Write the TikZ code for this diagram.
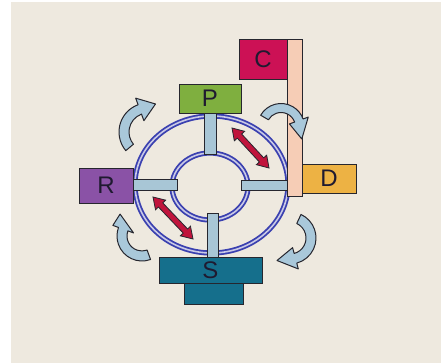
\documentclass[tikz,border=0pt]{standalone}
\usepackage{fontspec}
\setmainfont{Liberation Sans}
\usetikzlibrary{calc}
\definecolor{bg}{HTML}{EEE9DF}
\definecolor{outl}{HTML}{26262E}
\definecolor{txt}{HTML}{1F1A30}
\definecolor{cc}{HTML}{CC1155}
\definecolor{pc}{HTML}{7FAF3F}
\definecolor{dc}{HTML}{EDB244}
\definecolor{rc}{HTML}{8A52A6}
\definecolor{sc}{HTML}{156F8C}
\definecolor{pinkc}{HTML}{F6CDB6}
\definecolor{spokec}{HTML}{A8C6D6}
\definecolor{curc}{HTML}{A9C8DA}
\definecolor{redc}{HTML}{C0143C}
\definecolor{ringblue}{HTML}{3A40B0}
\definecolor{ringgap}{HTML}{C9C9E6}
\tikzset{
 box/.style={draw=outl, line width=0.9pt, inner sep=0pt, text=txt, font=\fontsize{24}{24}\selectfont},
 ring/.style={draw=ringblue, line width=1.8pt, double=ringgap, double distance=1.6pt},
 spoke/.style={draw=outl, fill=spokec, line width=0.7pt},
 redarr/.style={fill=redc, draw=outl, line width=0.8pt, line join=miter},
 curarr/.style={fill=curc, draw=outl, line width=1pt, line join=round},
}
\newcommand\curvarrow[9]{%
\begin{scope}[shift={(#1,#2)}]
\filldraw[curarr] (#4:{#3+#6/2}) arc[start angle=#4, end angle=#5, radius={#3+#6/2}] -- (#5:{#3+#7}) -- (#8:#9) -- (#5:{#3-#7}) -- (#5:{#3-#6/2}) arc[start angle=#5, end angle=#4, radius={#3-#6/2}] -- cycle;
\end{scope}}
\newcommand\dblarr[2]{%
\filldraw[redarr] (#1) -- ($(#1)!11pt!(#2)!7pt!90:(#2)$) -- ($(#1)!11pt!(#2)!3pt!90:(#2)$) -- ($(#2)!11pt!(#1)!3pt!-90:(#1)$) -- ($(#2)!11pt!(#1)!7pt!-90:(#1)$) -- (#2) -- ($(#2)!11pt!(#1)!7pt!90:(#1)$) -- ($(#2)!11pt!(#1)!3pt!90:(#1)$) -- ($(#1)!11pt!(#2)!3pt!-90:(#2)$) -- ($(#1)!11pt!(#2)!7pt!-90:(#2)$) -- cycle;}
\begin{document}
\begin{tikzpicture}[x=1pt,y=-1pt]
\useasboundingbox (0,0) rectangle (441,363);
\fill[white] (0,0) rectangle (441,363);
\fill[bg] (11,2) rectangle (441,363);
% rings
\draw[ring] (211.5,184.5) ellipse [x radius=76.5, y radius=68.5];
\draw[ring] (210,186.5) ellipse [x radius=38, y radius=33.5];
% spokes
\filldraw[spoke] (204,113) rectangle (216,154);
\filldraw[spoke] (207,213) rectangle (218,257);
\filldraw[spoke] (133,179) rectangle (177,190);
\filldraw[spoke] (241,180) rectangle (287,190);
% boxes
\node[box, fill=cc, minimum width=48, minimum height=40] (C) at (263,59) {C};
\node[box, fill=pinkc, minimum width=15, minimum height=157] (bar) at (294.5,117.5) {};
\node[box, fill=pc, minimum width=62, minimum height=29] (P) at (210,98.5) {P};
\node[box, fill=dc, minimum width=54, minimum height=29] (D) at (329,178.5) {D};
\node[box, fill=rc, minimum width=54, minimum height=35] (R) at (106,185.5) {R};
\node[box, fill=sc, minimum width=59, minimum height=21] (S2) at (213.5,293.5) {};
\node[box, fill=sc, minimum width=103, minimum height=26] (S) at (210.5,270) {S};
% red double arrows
\coordinate (a1) at (232,128);
\coordinate (a2) at (269,168);
\coordinate (b1) at (153,197);
\coordinate (b2) at (193,239);
\dblarr{a1}{a2}
\dblarr{b1}{b2}
% curved arrows
\curvarrow{148}{132}{24}{140}{250}{10}{12}{285}{29}
\curvarrow{281}{127}{19}{210}{340}{9}{10}{30}{24}
\curvarrow{290}{238}{21}{-65}{75}{10}{11}{120}{26}
\curvarrow{142}{236}{20}{70}{200}{10}{11}{225}{31}
\end{tikzpicture}
\end{document}
